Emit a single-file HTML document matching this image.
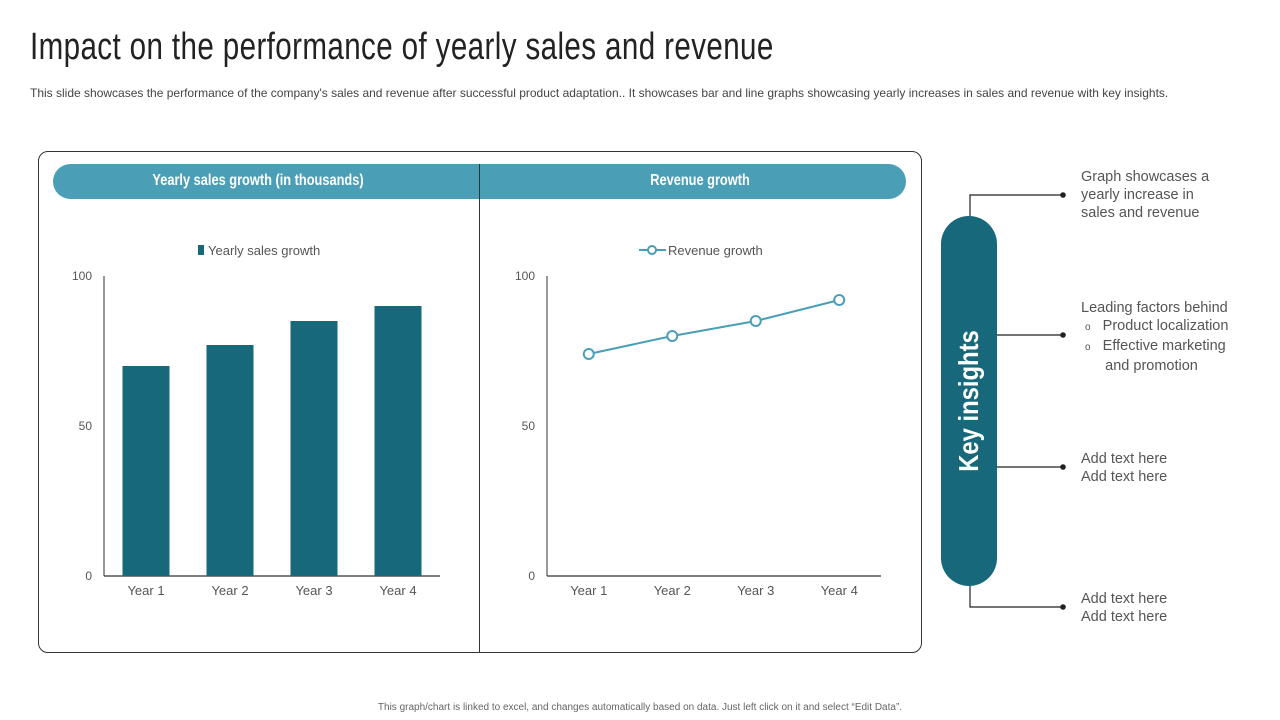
<!DOCTYPE html>
<html><head><meta charset="utf-8"><style>
body{margin:0;width:1280px;height:720px;background:#fff;font-family:"Liberation Sans",sans-serif;position:relative;overflow:hidden}
.abs{position:absolute}
.title{left:30px;top:26px;font-size:38px;color:#222;font-family:"Liberation Sans Narrow","Liberation Sans",sans-serif;transform:scaleX(0.778);transform-origin:left;letter-spacing:0.5px;white-space:nowrap}
.sub{left:30px;top:86px;font-size:12px;color:#444;white-space:nowrap}
.note{font-size:14.5px;color:#555;line-height:18px}
.hdr{color:#fff;font-size:16px;font-weight:bold;white-space:nowrap;transform:translateX(-50%) scaleX(0.8);}
</style></head><body>
<div class="abs title">Impact on the performance of yearly sales and revenue</div>
<div class="abs sub">This slide showcases the performance of the company's sales and revenue after successful product adaptation.. It showcases bar and line graphs showcasing yearly increases in sales and revenue with key insights.</div>
<div class="abs" style="left:38px;top:151px;width:882px;height:500px;border:1px solid #333;border-radius:10px"></div>
<div class="abs" style="left:53px;top:164px;width:853px;height:35px;background:#4a9fb6;border-radius:18px"></div>
<div class="abs hdr" style="left:258px;top:172px">Yearly sales growth (in thousands)</div>
<div class="abs hdr" style="left:700px;top:172px">Revenue growth</div>
<div class="abs" style="left:479px;top:164px;width:1px;height:488px;background:#333"></div>
<svg class="abs" style="left:0;top:0" width="1280" height="720" id="svg"></svg>
<div class="abs" style="left:941px;top:216px;width:56px;height:370px;background:#17687a;border-radius:28px"></div>
<div class="abs" style="left:969px;top:401px;transform:translate(-50%,-50%) rotate(-90deg) scaleX(0.85);color:#fff;font-size:28px;font-weight:bold;white-space:nowrap">Key insights</div>
<div class="abs note" style="left:1081px;top:168px">Graph showcases a<br>yearly increase in<br>sales and revenue</div>
<div class="abs note" style="left:1081px;top:299px">Leading factors behind<br>&nbsp;<span style="font-size:10px">o</span>&nbsp;&nbsp; Product localization<br>&nbsp;<span style="font-size:10px">o</span>&nbsp;&nbsp; Effective marketing<br>&nbsp;&nbsp;&nbsp;&nbsp;&nbsp; and promotion</div>
<div class="abs note" style="left:1081px;top:450px">Add text here<br>Add text here</div>
<div class="abs note" style="left:1081px;top:590px">Add text here<br>Add text here</div>
<div class="abs" style="left:0;width:1280px;top:702px;text-align:center;font-size:10px;color:#666">This graph/chart is linked to excel, and changes automatically based on data. Just left click on it and select “Edit Data”.</div>
<script>
const categories=["Year 1","Year 2","Year 3","Year 4"];
const salesValues=[70,77,85,90];
const revenueValues=[74,80,85,92];
const yTicks=[0,50,100];
const NS="http://www.w3.org/2000/svg";
const svg=document.getElementById('svg');
function mk(t,a,txt){const e=document.createElementNS(NS,t);for(const k in a)e.setAttribute(k,a[k]);if(txt!==undefined)e.textContent=txt;svg.appendChild(e);return e;}
function yS(v){return 576-v*3;}
function axes(x0,x1,name){
  let a=mk('line',{x1:x0,y1:276,x2:x0,y2:576,stroke:'#333','stroke-width':1});
  
  
  let b=mk('line',{x1:x0,y1:576,x2:x1,y2:576,stroke:'#333','stroke-width':1.2});
  
  
  yTicks.forEach(t=>{let l=mk('text',{x:x0-12,y:yS(t)+4,'text-anchor':'end','font-size':12,fill:'#555'},t);
    
    });
  const bw=(x1-x0)/categories.length;
  categories.forEach((c,i)=>{let l=mk('text',{x:x0+bw*(i+0.5),y:595,'text-anchor':'middle','font-size':13,fill:'#555'},c);
    
    });
  return bw;
}
const bx0=104,bx1=440;
const bw=axes(bx0,bx1,'sales');
salesValues.forEach((v,i)=>{const cx=bx0+bw*(i+0.5);
  let r=mk('rect',{x:cx-23.5,y:yS(v),width:47,height:v*3,fill:'#17687a'});
  
  });
let lg=mk('rect',{x:198,y:245,width:6,height:10,fill:'#17687a'});


let lt=mk('text',{x:208,y:255,'font-size':13,fill:'#555'},'Yearly sales growth');


const lx0=547,lx1=881;
const lw=axes(lx0,lx1,'revenue');
const pts=revenueValues.map((v,i)=>[lx0+lw*(i+0.5),yS(v)]);
let pl=mk('polyline',{points:pts.map(p=>p.join(',')).join(' '),fill:'none',stroke:'#4a9fb6','stroke-width':2});


pts.forEach((p,i)=>{let c=mk('circle',{cx:p[0],cy:p[1],r:5,fill:'#fff',stroke:'#4a9fb6','stroke-width':2});
  
  });
let ll=mk('line',{x1:639,y1:250,x2:666,y2:250,stroke:'#4a9fb6','stroke-width':2});


let lc=mk('circle',{cx:652,cy:250,r:4,fill:'#fff',stroke:'#4a9fb6','stroke-width':2});


let lt2=mk('text',{x:668,y:255,'font-size':13,fill:'#555'},'Revenue growth');


const conns=[[970,216,970,195,1063,195],[997,335,997,335,1063,335],[997,467,997,467,1063,467],[970,586,970,607,1063,607]];
conns.forEach((c,i)=>{let p=mk('polyline',{points:`${c[0]},${c[1]} ${c[2]},${c[3]} ${c[4]},${c[5]}`,fill:'none',stroke:'#222','stroke-width':1.2});
  
  
  let d=mk('circle',{cx:c[4],cy:c[5],r:2.8,fill:'#222'});
  
  });
</script>
</body></html>
